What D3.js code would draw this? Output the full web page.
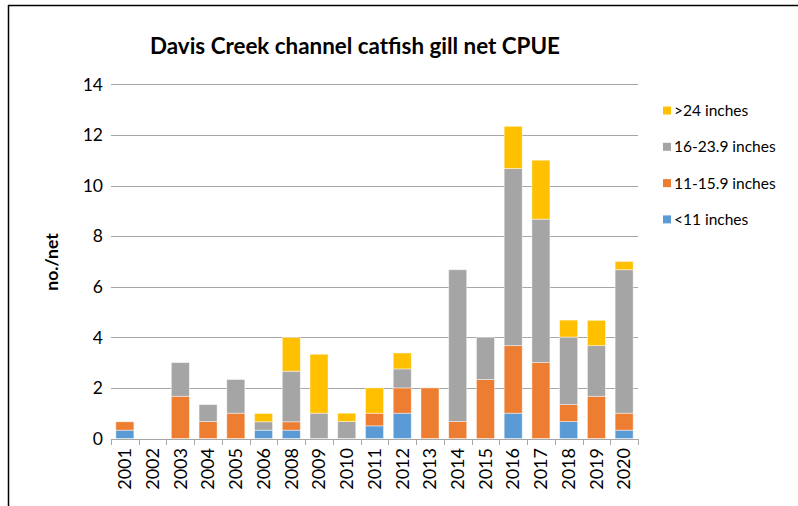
<!DOCTYPE html>
<html>
<head>
<meta charset="utf-8">
<script src="https://cdn.jsdelivr.net/npm/d3@7"></script>
<style>
  html, body { margin: 0; padding: 0; background: #fff; }
  svg { display: block; }
  text { font-family: Lato, "Open Sans", sans-serif; fill: #000; }
</style>
</head>
<body>
<svg id="chart" width="798" height="506"></svg>
<script>
// Survey years and catch per unit effort (fish per net) by length group
const years = ["2001","2002","2003","2004","2005","2006","2008","2009","2010","2011",
               "2012","2013","2014","2015","2016","2017","2018","2019","2020"];
const under11  = [0.33, 0, 0,    0,    0,    0.33, 0.33, 0,    0,    0.5, 1.0,  0,   0,    0,    1.0,  0,    0.67, 0,    0.33];
const len11to15 = [0.33, 0, 1.67, 0.67, 1.0,  0,    0.33, 0,    0,    0.5, 1.0,  2.0, 0.67, 2.33, 2.67, 3.0,  0.67, 1.67, 0.67];
const len16to23 = [0,    0, 1.33, 0.67, 1.33, 0.33, 2.0,  1.0,  0.67, 0,   0.75, 0,   6.0,  1.67, 7.0,  5.67, 2.67, 2.0,  5.67];
const over24   = [0,    0, 0,    0,    0,    0.33, 1.33, 2.33, 0.33, 1.0, 0.63, 0,   0,    0,    1.67, 2.33, 0.67, 1.0,  0.33];
const seriesNames = ["<11 inches", "11-15.9 inches", "16-23.9 inches", ">24 inches"];
const seriesColors = ["#5B9BD5", "#ED7D31", "#A5A5A5", "#FFC000"];
const yTicks = [0, 2, 4, 6, 8, 10, 12, 14];
const chartTitle = "Davis Creek channel catfish gill net CPUE";
const yTitle = "no./net";

const svg = d3.select("#chart");
svg.append("rect").attr("width", 798).attr("height", 506).attr("fill", "#fff");

// chart frame (top and left edges)
svg.append("line").attr("x1", 8).attr("x2", 798).attr("y1", 5.5).attr("y2", 5.5)
  .attr("stroke", "#000").attr("stroke-width", 1.5);
svg.append("line").attr("x1", 8.5).attr("x2", 8.5).attr("y1", 5).attr("y2", 506)
  .attr("stroke", "#000").attr("stroke-width", 1.5);

const keys = ["u11", "l11", "l16", "o24"];
const rows = years.map((y, i) => ({
  year: y, u11: under11[i], l11: len11to15[i], l16: len16to23[i], o24: over24[i]
}));
const stacked = d3.stack().keys(keys)(rows);

const x = d3.scaleBand().domain(years).range([111, 638]).paddingInner(0.35).paddingOuter(0.175);
const y = d3.scaleLinear().domain([0, 14]).range([438.5, 84.3]);

// horizontal gridlines
svg.append("g").selectAll("line").data(yTicks.filter(t => t > 0)).join("line")
  .attr("x1", 111).attr("x2", 638)
  .attr("y1", d => Math.round(y(d)) + 0.5).attr("y2", d => Math.round(y(d)) + 0.5)
  .attr("stroke", "#A6A6A6").attr("stroke-width", 1);

// y tick labels
svg.append("g").selectAll("text").data(yTicks).join("text")
  .attr("x", 103).attr("y", d => y(d)).attr("dy", "0.36em")
  .attr("text-anchor", "end").attr("font-size", 17.5).text(d => d);

// stacked bars
svg.append("g").selectAll("g").data(stacked).join("g")
  .attr("fill", (d, i) => seriesColors[i])
  .selectAll("rect").data(d => d.filter(s => s[1] - s[0] > 0)).join("rect")
  .attr("x", d => x(d.data.year))
  .attr("width", x.bandwidth())
  .attr("y", d => y(d[1]))
  .attr("height", d => y(d[0]) - y(d[1]))
  .attr("stroke", "#fff").attr("stroke-opacity", 0.55).attr("stroke-width", 0.8);

// x axis line and tick marks
const xAxis = d3.axisBottom(x).tickSize(0).tickFormat("");
const axisG = svg.append("g").attr("transform", `translate(0,${Math.round(y(0)) + 0.5})`).call(xAxis);
axisG.select(".domain").attr("stroke", "#A6A6A6").attr("d", "M111,0H638");
const bounds = years.map(d => x(d) - x.step() * x.paddingInner() / 2).concat([638]);
svg.append("g").selectAll("line").data(bounds).join("line")
  .attr("x1", d => Math.round(d) + 0.5).attr("x2", d => Math.round(d) + 0.5)
  .attr("y1", Math.round(y(0))).attr("y2", Math.round(y(0)) + 6)
  .attr("stroke", "#A6A6A6");

// rotated year labels
svg.append("g").selectAll("text").data(years).join("text")
  .attr("transform", d => `translate(${x(d) + x.bandwidth() / 2},448) rotate(-90)`)
  .attr("text-anchor", "end").attr("dy", "0.35em").attr("font-size", 18)
  .text(d => d);

// title
svg.append("text").attr("x", 355).attr("y", 54).attr("text-anchor", "middle")
  .attr("font-size", 22.4).attr("font-weight", "bold").text(chartTitle);

// y axis title
svg.append("text").attr("transform", "translate(58,262) rotate(-90)")
  .attr("text-anchor", "middle").attr("font-size", 17.5).attr("font-weight", "bold")
  .text(yTitle);

// legend, top entry is the last series
const legendOrder = [3, 2, 1, 0];
const lg = svg.append("g").selectAll("g").data(legendOrder).join("g")
  .attr("transform", (d, i) => `translate(663,${110.5 + i * 36.3})`);
lg.append("rect").attr("x", 0).attr("y", -4).attr("width", 8).attr("height", 8)
  .attr("fill", d => seriesColors[d]);
lg.append("text").attr("x", 11).attr("dy", "0.36em").attr("font-size", 15.5)
  .text(d => seriesNames[d]);
</script>
</body>
</html>
